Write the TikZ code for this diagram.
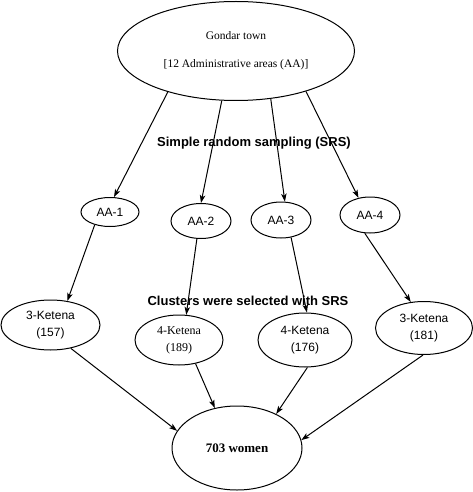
\documentclass[tikz,border=0pt]{standalone}
\usepackage{fontspec}
\setmainfont{Liberation Serif}
\setsansfont{Liberation Sans}
\usetikzlibrary{shapes.geometric,arrows.meta}
\tikzset{
  ell/.style={draw, ellipse, line width=1pt, inner sep=0pt, align=center},
  sanstxt/.style={font=\sffamily\fontsize{12}{17}\selectfont},
  seriftxt/.style={font=\fontsize{12}{17}\selectfont},
  lbl/.style={font=\sffamily\bfseries\fontsize{13}{15}\selectfont, inner sep=0pt},
  arr/.style={line width=1pt, -{Stealth[length=8pt,width=5.5pt,inset=2pt]}}
}
\begin{document}
\begin{tikzpicture}[x=1pt,y=-1pt]
\useasboundingbox (0,0) rectangle (473,492);
\node[ell, minimum width=237pt, minimum height=99pt, font=\fontsize{11.5}{28}\selectfont] (top) at (236,51) {Gondar town\\{}[12 Administrative areas (AA)]};
\node[ell, sanstxt, minimum width=58pt, minimum height=29pt] (aa1) at (110,212) {AA-1};
\node[ell, sanstxt, minimum width=60pt, minimum height=35pt] (aa2) at (201,221) {AA-2};
\node[ell, sanstxt, minimum width=60pt, minimum height=36pt] (aa3) at (281,220) {AA-3};
\node[ell, sanstxt, minimum width=60pt, minimum height=36pt] (aa4) at (370,215) {AA-4};
\node[ell, sanstxt, minimum width=99pt, minimum height=50pt] (k1) at (50.5,325) {3-Ketena\\(157)};
\node[ell, seriftxt, minimum width=88pt, minimum height=50pt] (k2) at (179,340) {4-Ketena\\(189)};
\node[ell, sanstxt, minimum width=94pt, minimum height=54pt] (k3) at (305,340) {4-Ketena\\(176)};
\node[ell, sanstxt, minimum width=97pt, minimum height=53pt] (k4) at (424,328) {3-Ketena\\(181)};
\node[ell, font=\bfseries\fontsize{13}{15}\selectfont, minimum width=130pt, minimum height=84pt] (w) at (237,448) {703 women};
\node[lbl] (l1) at (254,143) {Simple random sampling (SRS)};
\node[lbl] (l2) at (248,301) {Clusters were selected with SRS};
\draw[arr] (top.211) -- (aa1.75);
\draw[arr] (top.254) -- (aa2.90);
\draw[arr] (top.306) -- (aa3.78);
\draw[arr] (top.330) -- (aa4.124);
\draw[arr] (aa1.220) -- (k1.55);
\draw[arr] (aa2.257) -- (k2.74);
\draw[arr] (aa3.300) -- (k3.86);
\draw[arr] (aa4.254) -- (k4.117);
\draw[arr] (k1.311) -- (w.164);
\draw[arr] (k2.305) -- (w.119);
\draw[arr] (k3.275) -- (w.41);
\draw[arr] (k4.268) -- (w.7);
\end{tikzpicture}
\end{document}
